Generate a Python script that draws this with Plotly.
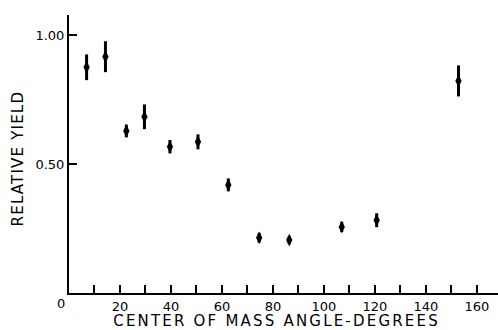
import plotly.graph_objects as go

# Data
angle_deg = [6.9, 14.3, 22.5, 29.6, 39.6, 50.6, 62.5, 74.6, 86.4, 107.0, 120.7, 152.8]
relative_yield = [0.875, 0.916, 0.628, 0.683, 0.567, 0.586, 0.419, 0.214, 0.205, 0.256, 0.282, 0.822]
yield_error = [0.050, 0.060, 0.025, 0.048, 0.026, 0.029, 0.025, 0.019, 0.015, 0.020, 0.027, 0.060]

x_tick_vals = [10, 20, 30, 40, 50, 60, 70, 80, 90, 100, 110, 120, 130, 140, 150, 160]
x_tick_text = ["", "20", "", "40", "", "60", "", "80", "", "100", "", "120", "", "140", "", "160"]
y_tick_vals = [0.5, 1.0]
y_tick_text = ["0.50", "1.00"]

FONT = "DejaVu Sans"

fig = go.Figure()
fig.add_trace(go.Scatter(
    x=angle_deg, y=relative_yield, mode="markers",
    marker=dict(symbol="diamond-tall", size=9, color="black"),
    error_y=dict(type="data", array=yield_error, visible=True,
                 color="black", thickness=3, width=0),
    showlegend=False,
))

fig.update_layout(
    width=498, height=330,
    margin=dict(l=69, r=0, t=15, b=37, autoexpand=False),
    paper_bgcolor="white", plot_bgcolor="white",
    font=dict(family=FONT, color="black", size=12),
    xaxis=dict(
        range=[0, 168.3], tickvals=x_tick_vals, ticktext=x_tick_text,
        ticks="inside", ticklen=8, tickwidth=1.5, tickcolor="black",
        showline=True, linecolor="black", linewidth=2,
        showgrid=False, zeroline=False, automargin=False,
        tickfont=dict(family=FONT, size=13, color="black"),
    ),
    yaxis=dict(
        range=[0, 1.0775], tickvals=y_tick_vals, ticktext=y_tick_text,
        ticks="inside", ticklen=8, tickwidth=1.5, tickcolor="black",
        showline=True, linecolor="black", linewidth=2,
        showgrid=False, zeroline=False, automargin=False,
        tickfont=dict(family=FONT, size=13, color="black"),
    ),
    annotations=[
        dict(text="0", x=0, y=0, xref="x", yref="y", showarrow=False,
             xshift=-8, yshift=-10, yanchor="middle", xanchor="center",
             font=dict(family=FONT, size=13, color="black")),
        dict(text="CENTER OF MASS ANGLE-DEGREES", x=(276 - 69) / 429, y=-(321 - 293) / 278,
             xref="paper", yref="paper", xanchor="center", yanchor="middle",
             showarrow=False, font=dict(family=FONT, size=15, color="black")),
        dict(text="RELATIVE YIELD", x=0, y=(293 - 159) / 278, xref="paper", yref="paper",
             showarrow=False, textangle=-90, xanchor="center", yanchor="middle",
             xshift=-51, font=dict(family=FONT, size=15, color="black")),
    ],
)

post = """
document.body.style.margin='0';
document.body.style.overflow='hidden';
var t = document.querySelectorAll('g.annotation text.annotation-text');
if (t.length >= 3) {
  t[1].style.letterSpacing = '2.2px';
  t[2].style.letterSpacing = '1.2px';
}
"""

fig.write_html("out.html", post_script=post, config={"displayModeBar": False})
